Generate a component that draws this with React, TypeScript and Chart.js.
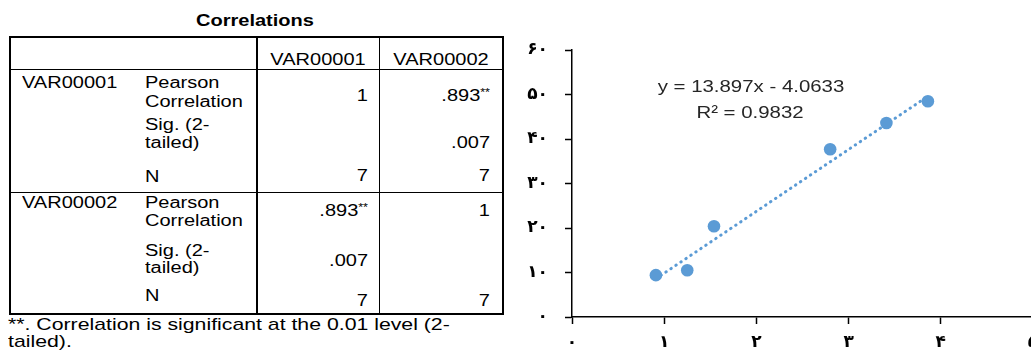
import React, { useEffect, useRef } from "react";
import { Chart, registerables } from "chart.js";

Chart.register(...registerables);

// ---- chart data ----
const xValues = [0.91, 1.25, 1.54, 2.8, 3.41, 3.86];
const yValues = [9.4, 10.5, 20.4, 37.7, 43.6, 48.5];
const trendX = [0.91, 3.86];
const trendY = [8.6, 49.6];
const xTickLabels = ["۰", "۱", "۲", "۳", "۴", "۵"];
const yTickLabels = ["۰", "۱۰", "۲۰", "۳۰", "۴۰", "۵۰", "۶۰"];
const equationText = "y = 13.897x - 4.0633";
const r2Text = "R² = 0.9832";

// ---- table data ----
const tableTitle = "Correlations";
const columnHeaders = ["VAR00001", "VAR00002"];
const rowVariables = ["VAR00001", "VAR00002"];
const pearsonValues = [
  ["1", ".893"],
  [".893", "1"],
];
const pearsonStars = [
  ["", "**"],
  ["**", ""],
];
const sigValues = [
  ["", ".007"],
  [".007", ""],
];
const nValues = [
  ["7", "7"],
  ["7", "7"],
];
const footnoteLines = [
  "**. Correlation is significant at the 0.01 level (2-",
  "tailed).",
];

const BLUE = "#5B9BD5";
const SX = 1.25;
const FONT = "'Liberation Sans', Arial, sans-serif";

function T(props: {
  x: number;
  b: number;
  fs?: number;
  align?: "left" | "right" | "center";
  bold?: boolean;
  sx?: number;
  color?: string;
  children: React.ReactNode;
}) {
  const fs = props.fs ?? 16;
  const sx = props.sx ?? SX;
  const align = props.align ?? "left";
  const top = props.b - 0.8465 * fs;
  const tr =
    align === "left"
      ? `scaleX(${sx})`
      : align === "right"
      ? `scaleX(${sx}) translateX(-100%)`
      : `scaleX(${sx}) translateX(-50%)`;
  return (
    <div
      style={{
        position: "absolute",
        left: props.x,
        top,
        whiteSpace: "nowrap",
        fontSize: fs,
        lineHeight: `${fs}px`,
        fontFamily: FONT,
        fontWeight: props.bold ? "bold" : "normal",
        color: props.color ?? "#000",
        transform: tr,
        transformOrigin: "0 0",
      }}
    >
      {props.children}
    </div>
  );
}

function L(props: { x: number; y: number; w: number; h: number }) {
  return (
    <div
      style={{
        position: "absolute",
        left: props.x,
        top: props.y,
        width: props.w,
        height: props.h,
        background: "#000",
      }}
    />
  );
}

function Val(props: { v: string; stars: string }) {
  return (
    <>
      {props.v}
      {props.stars ? (
        <span style={{ fontSize: 10, position: "relative", top: -5 }}>
          {props.stars}
        </span>
      ) : null}
    </>
  );
}

function CorrTable() {
  const colRight = [368, 490];
  const groups = [
    { varB: 89, lines: [89, 108, 131, 149, 183], vals: [101.5, 149, 182] },
    { varB: 208.5, lines: [208.5, 227, 256.5, 274, 301.5], vals: [216.5, 267, 307] },
  ];
  return (
    <>
      <T x={255} b={27} align="center" bold>
        {tableTitle}
      </T>
      {/* borders */}
      <L x={9} y={36} w={495} h={2} />
      <L x={9} y={313} w={495} h={2} />
      <L x={9} y={36} w={2} h={279} />
      <L x={502} y={36} w={2} h={279} />
      <L x={256} y={36} w={2} h={279} />
      <L x={379} y={36} w={1} h={279} />
      <L x={9} y={69} w={495} h={1} />
      <L x={9} y={192} w={495} h={1} />
      {/* headers */}
      <T x={318} b={66} align="center">
        {columnHeaders[0]}
      </T>
      <T x={441} b={66} align="center">
        {columnHeaders[1]}
      </T>
      {groups.map((g, gi) => (
        <React.Fragment key={gi}>
          <T x={22} b={g.varB}>
            {rowVariables[gi]}
          </T>
          <T x={145} b={g.lines[0]}>Pearson</T>
          <T x={145} b={g.lines[1]}>Correlation</T>
          <T x={145} b={g.lines[2]}>Sig. (2-</T>
          <T x={145} b={g.lines[3]}>tailed)</T>
          <T x={145} b={g.lines[4]}>N</T>
          {[0, 1].map((ci) => (
            <React.Fragment key={ci}>
              <T x={colRight[ci]} b={g.vals[0]} align="right">
                <Val v={pearsonValues[gi][ci]} stars={pearsonStars[gi][ci]} />
              </T>
              {sigValues[gi][ci] ? (
                <T x={colRight[ci]} b={g.vals[1]} align="right">
                  {sigValues[gi][ci]}
                </T>
              ) : null}
              <T x={colRight[ci]} b={g.vals[2]} align="right">
                {nValues[gi][ci]}
              </T>
            </React.Fragment>
          ))}
        </React.Fragment>
      ))}
      <T x={8} b={330} fs={17}>
        {footnoteLines[0]}
      </T>
      <T x={8} b={347} fs={17}>
        {footnoteLines[1]}
      </T>
    </>
  );
}

function ScatterChart() {
  const ref = useRef<HTMLCanvasElement | null>(null);
  useEffect(() => {
    if (!ref.current) return;
    const tickFont = { family: "'DejaVu Sans', sans-serif", size: 17, weight: "bold" as const };
    const chart = new Chart(ref.current, {
      type: "scatter",
      data: {
        datasets: [
          {
            label: "data",
            data: xValues.map((x, i) => ({ x, y: yValues[i] })),
            backgroundColor: BLUE,
            borderColor: BLUE,
            borderWidth: 0,
            pointRadius: 6.3,
            pointHoverRadius: 6.3,
          },
          {
            type: "line",
            label: "trend",
            data: trendX.map((x, i) => ({ x, y: trendY[i] })),
            borderColor: BLUE,
            borderWidth: 3,
            borderDash: [0.5, 5.5],
            borderCapStyle: "round",
            pointRadius: 0,
            fill: false,
            showLine: true,
          } as any,
        ],
      },
      options: {
        responsive: false,
        animation: false,
        events: [],
        layout: { padding: { left: 0, right: 7, top: 50, bottom: 0 } },
        plugins: {
          legend: { display: false },
          tooltip: { enabled: false },
          title: { display: false },
        },
        scales: {
          x: {
            type: "linear",
            min: 0,
            max: 5,
            afterFit: (s: any) => {
              s.height = 37;
              s.paddingLeft = 0;
              s.paddingRight = 0;
            },
            ticks: {
              stepSize: 1,
              color: "#000",
              font: tickFont,
              padding: 8,
              maxRotation: 0,
              autoSkip: false,
              callback: (v: any) => xTickLabels[Math.round(Number(v))] ?? "",
            },
            grid: {
              drawOnChartArea: false,
              drawTicks: true,
              tickLength: 7,
              tickColor: "#000",
              tickWidth: 1.5,
            },
            border: { display: true, color: "#000", width: 1.5 },
          },
          y: {
            type: "linear",
            min: 0,
            max: 60,
            afterFit: (s: any) => {
              s.width = 52;
              s.paddingTop = 0;
              s.paddingBottom = 0;
            },
            ticks: {
              stepSize: 10,
              color: "#000",
              font: tickFont,
              padding: 17,
              autoSkip: false,
              callback: (v: any) => yTickLabels[Math.round(Number(v) / 10)] ?? "",
            },
            grid: {
              drawOnChartArea: false,
              drawTicks: true,
              tickLength: 7,
              tickColor: "#000",
              tickWidth: 1.5,
            },
            border: { display: true, color: "#000", width: 1.5 },
          },
        },
      },
    });
    return () => chart.destroy();
  }, []);
  return (
    <canvas
      ref={ref}
      width={520}
      height={354}
      style={{ position: "absolute", left: 520, top: 0, width: 520, height: 354 }}
    />
  );
}

export default function App() {
  return (
    <div
      style={{
        position: "fixed",
        left: 0,
        top: 0,
        width: 1031,
        height: 354,
        overflow: "hidden",
        background: "#fff",
      }}
    >
      <CorrTable />
      <ScatterChart />
      <T x={751} b={92} fs={17} sx={1.2} align="center" color="#262626">
        {equationText}
      </T>
      <T x={750} b={118} fs={17} sx={1.2} align="center" color="#262626">
        {r2Text}
      </T>
    </div>
  );
}
